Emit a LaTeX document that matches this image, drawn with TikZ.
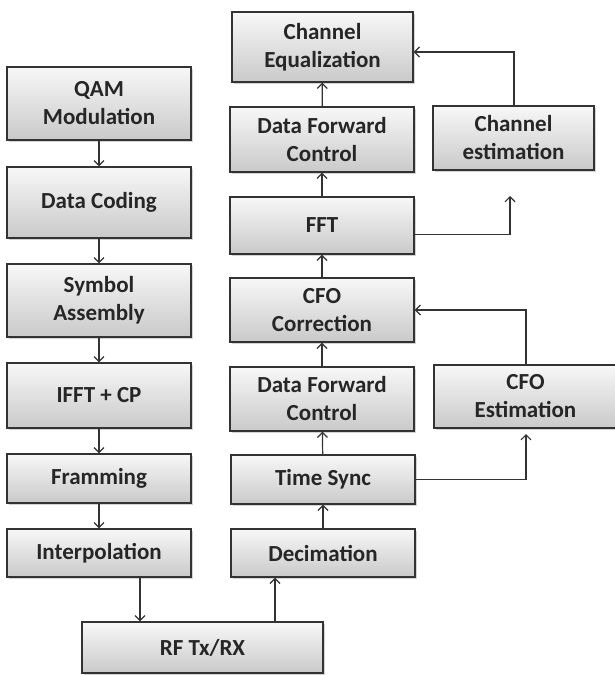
\documentclass[tikz,border=0pt]{standalone}
\usepackage{fontspec}
\setmainfont{Carlito}
\usepackage{tikz}
\usetikzlibrary{arrows.meta,shadows}

\begin{document}
\begin{tikzpicture}[
  x=1pt, y=-1pt,
  every node/.style={font=\bfseries\fontsize{23}{28}\selectfont, text=black!85},
  block/.style={rectangle, draw=black!80, line width=1.3pt, align=center,
    top color=gray!6, bottom color=gray!42, inner sep=0pt,
    drop shadow={shadow xshift=1.5pt, shadow yshift=-1.5pt, opacity=0.35}},
  flow/.style={draw=black!80, line width=1.2pt, -{Straight Barb[length=5pt,width=10pt]}}
]
\useasboundingbox (0,0) rectangle (615,675);
% transmitter chain
\node[block, minimum width=184pt, minimum height=73pt] (qam) at (99,103.5) {QAM\\Modulation};
\node[block, minimum width=184pt, minimum height=71pt] (coding) at (99,202.5) {Data Coding};
\node[block, minimum width=184pt, minimum height=73pt] (symbol) at (99,300.5) {Symbol\\Assembly};
\node[block, minimum width=184pt, minimum height=65pt] (ifft) at (99,395.5) {IFFT + CP};
\node[block, minimum width=184pt, minimum height=49pt] (framing) at (99,478.5) {Framming};
\node[block, minimum width=184pt, minimum height=48pt] (interp) at (99,553) {Interpolation};
% radio front end
\node[block, minimum width=241pt, minimum height=51pt] (rf) at (202.5,647.5) {RF Tx/RX};
% receiver chain
\node[block, minimum width=184pt, minimum height=48pt] (decim) at (323,553) {Decimation};
\node[block, minimum width=184pt, minimum height=49pt] (tsync) at (323,479.5) {Time Sync};
\node[block, minimum width=184pt, minimum height=64pt] (dfcA) at (322,399) {Data Forward\\Control};
\node[block, minimum width=184pt, minimum height=64pt] (cfocorr) at (322,310) {CFO\\Correction};
\node[block, minimum width=184pt, minimum height=57pt] (fft) at (322,225.5) {FFT};
\node[block, minimum width=184pt, minimum height=65pt] (dfcB) at (322,139.5) {Data Forward\\Control};
\node[block, minimum width=181pt, minimum height=70pt] (chaneq) at (322.5,47) {Channel\\Equalization};
% side estimators
\node[block, minimum width=183pt, minimum height=63pt] (cfoest) at (525.5,396.5) {CFO\\Estimation};
\node[block, minimum width=161pt, minimum height=64pt] (chest) at (513.5,138) {Channel\\estimation};
\coordinate (chtip) at (510,196);
\coordinate (cfotip) at (526,434);

\draw[flow] (qam) -- (coding);
\draw[flow] (coding) -- (symbol);
\draw[flow] (symbol) -- (ifft);
\draw[flow] (ifft) -- (framing);
\draw[flow] (framing) -- (interp);
\draw[flow] ([xshift=41pt]interp.south) -- ([xshift=41pt]interp.south |- rf.north);
\draw[flow] ([xshift=-48pt]decim.south |- rf.north) -- ([xshift=-48pt]decim.south);
\draw[flow] (decim) -- (tsync);
\draw[flow] (tsync) -- (dfcA);
\draw[flow] (dfcA) -- (cfocorr);
\draw[flow] (cfocorr) -- (fft);
\draw[flow] (fft) -- (dfcB);
\draw[flow] (dfcB) -- (chaneq);
\draw[flow] (tsync.east) -| (cfotip);
\draw[flow] (cfoest.north -| cfotip) |- (cfocorr.east);
\draw[flow] ([yshift=-9pt]fft.east) -| (chtip);
\draw[flow] ([xshift=0.5pt]chest.north) |- ([yshift=-5pt]chaneq.east);
\end{tikzpicture}
\end{document}
